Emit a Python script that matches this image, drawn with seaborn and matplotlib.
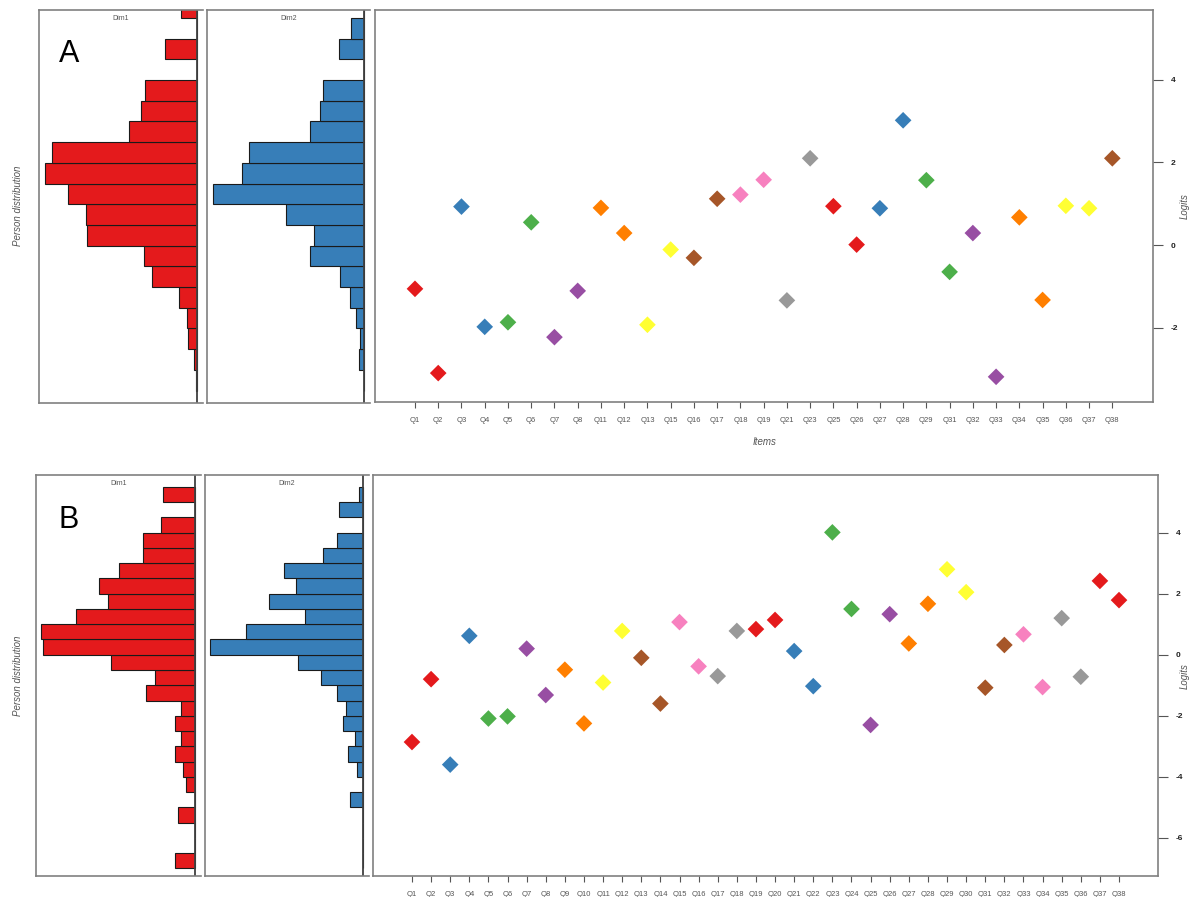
import numpy as np
import pandas as pd
import seaborn as sns
import matplotlib.pyplot as plt

sns.set_theme(style="white")
plt.rcParams['font.family'] = ['Liberation Sans', 'DejaVu Sans']
plt.rcParams['axes.unicode_minus'] = False

# item difficulties (logits), panel A
items_a = ['Q1', 'Q2', 'Q3', 'Q4', 'Q5', 'Q6', 'Q7', 'Q8', 'Q11', 'Q12', 'Q13',
           'Q15', 'Q16', 'Q17', 'Q18', 'Q19', 'Q21', 'Q23', 'Q25', 'Q26', 'Q27',
           'Q28', 'Q29', 'Q31', 'Q32', 'Q33', 'Q34', 'Q35', 'Q36', 'Q37', 'Q38']
logits_a = [-1.06, -3.10, 0.93, -1.98, -1.87, 0.55, -2.23, -1.11, 0.90, 0.29, -1.93,
            -0.11, -0.31, 1.12, 1.22, 1.58, -1.34, 2.10, 0.94, 0.01, 0.89,
            3.02, 1.57, -0.65, 0.29, -3.19, 0.67, -1.33, 0.95, 0.89, 2.10]

# panel B
items_b = ['Q%d' % i for i in range(1, 39)]
logits_b = [-2.86, -0.80, -3.60, 0.62, -2.09, -2.02, 0.20, -1.32, -0.49, -2.25,
            -0.91, 0.78, -0.10, -1.60, 1.07, -0.38, -0.70, 0.78, 0.84, 1.14,
            0.12, -1.03, 4.01, 1.50, -2.30, 1.33, 0.37, 1.67, 2.80, 2.05,
            -1.08, 0.32, 0.67, -1.06, 1.20, -0.72, 2.42, 1.79]

# person distributions, bins of 0.5 logits listed from the top bin downwards
top_a = 6.0
dim1_a = [50, 0, 95, 0, 155, 167, 204, 432, 455, 385, 332, 328, 160, 135, 54, 32, 28, 10, 3]
dim2_a = [0, 40, 75, 0, 124, 134, 164, 346, 366, 454, 235, 152, 163, 73, 43, 24, 14, 16, 2]
top_b = 5.5
dim1_b = [95, 0, 103, 155, 155, 225, 285, 260, 354, 458, 450, 251, 120, 147, 43, 60,
          43, 60, 35, 27, 0, 52, 0, 0, 61]
dim2_b = [13, 73, 0, 78, 120, 235, 202, 282, 175, 349, 457, 195, 127, 79, 52, 60,
          26, 47, 20, 0, 40, 0, 0, 0, 0]

W, H = 1196, 897
fig = plt.figure(figsize=(W / 100, H / 100), dpi=100)
set1 = sns.color_palette("Set1", 9)
frame = '#808080'


def box(l, t, r, b):
    return fig.add_axes([l / W, 1 - b / H, (r - l) / W, (b - t) / H])


def hist_panel(ax, counts, top, color, title, ylim):
    lows = top - 0.5 * np.arange(1, len(counts) + 1)
    df = pd.DataFrame({'logit': lows + 0.25, 'n': counts})
    edges = list(np.arange(lows[-1], top + 0.01, 0.5))
    sns.histplot(data=df, y='logit', weights='n', bins=edges, color=color, alpha=1,
                 edgecolor='#1a1a1a', linewidth=0.8, ax=ax)
    ax.set_xlim(472, -17)
    ax.set_ylim(*ylim)
    ax.axvline(0, color='#404040', lw=1.3)
    ax.set_xticks([])
    ax.set_yticks([])
    ax.set_xlabel('')
    ax.set_ylabel('')
    for s in ['left', 'top', 'bottom']:
        ax.spines[s].set_color(frame)
        ax.spines[s].set_linewidth(1.2)
    ax.spines['right'].set_visible(False)
    ax.text(0.5, 0.988, title, transform=ax.transAxes, ha='center', va='top',
            fontsize=5, color='#555555')


def item_panel(ax, items, logits, xlim, ylim, yticks):
    x = np.arange(1, len(items) + 1)
    grp = [(i // 2) % 9 for i in range(len(items))]
    df = pd.DataFrame({'x': x, 'logit': logits, 'grp': grp})
    sns.scatterplot(data=df, x='x', y='logit', hue='grp', palette=dict(enumerate(set1)),
                    marker='D', s=72, linewidth=0, legend=False, ax=ax)
    ax.set_xlim(*xlim)
    ax.set_ylim(*ylim)
    ax.set_xticks(x)
    ax.set_xticklabels(items, fontsize=5.5, color='#555555')
    ax.yaxis.tick_right()
    ax.set_yticks(yticks)
    ax.set_yticklabels([str(v) for v in yticks], fontsize=6, fontweight='bold', color='#222222')
    ax.tick_params(axis='x', bottom=True, direction='out', length=4, width=0.8,
                   color='#555555', pad=7)
    ax.tick_params(axis='y', right=True, left=False, direction='out', length=7,
                   width=0.8, color='#555555', pad=6)
    ax.set_xlabel('')
    ax.set_ylabel('')
    for s in ax.spines.values():
        s.set_color(frame)
        s.set_linewidth(1.2)


# panel A
ylim_a = (-3.80, 5.69)
hist_panel(box(39, 10, 203, 403), dim1_a, top_a, '#e41a1c', 'Dim1', ylim_a)
hist_panel(box(207, 10, 370, 403), dim2_a, top_a, '#377eb8', 'Dim2', ylim_a)
item_panel(box(375, 10, 1153, 402), items_a, logits_a, (-0.72, 32.75), ylim_a, [-2, 0, 2, 4])

# panel B
ylim_b = (-7.25, 5.89)
hist_panel(box(36, 475, 201, 876), dim1_b, top_b, '#e41a1c', 'Dim1', ylim_b)
hist_panel(box(205, 475, 369, 876), dim2_b, top_b, '#377eb8', 'Dim2', ylim_b)
item_panel(box(373, 475, 1158, 876), items_b, logits_b, (-1.04, 40.04), ylim_b,
           [-6, -4, -2, 0, 2, 4])

lab = dict(fontsize=7, style='italic', color='#555555', ha='center', va='center')
fig.text(18 / W, 1 - 206 / H, 'Person distribution', rotation=90, **lab)
fig.text(18 / W, 1 - 676 / H, 'Person distribution', rotation=90, **lab)
fig.text(1185 / W, 1 - 206 / H, 'Logits', rotation=90, **lab)
fig.text(1185 / W, 1 - 676 / H, 'Logits', rotation=90, **lab)
fig.text(765 / W, 1 - 442 / H, 'Items', **lab)
fig.text(69 / W, 1 - 54 / H, 'A', fontsize=22, color='black', ha='center', va='center')
fig.text(69 / W, 1 - 520 / H, 'B', fontsize=22, color='black', ha='center', va='center')

fig.savefig('out.png', dpi=100)
